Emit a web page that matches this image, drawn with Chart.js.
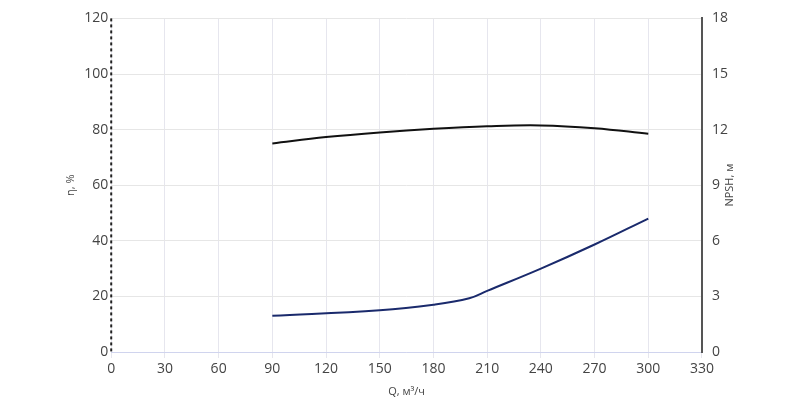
<!DOCTYPE html>
<html>
<head>
<meta charset="utf-8">
<script src="https://cdn.jsdelivr.net/npm/chart.js@4/dist/chart.umd.min.js"></script>
<style>
html, body { margin: 0; padding: 0; background: #fff; }
#wrap { width: 800px; height: 408px; }
</style>
</head>
<body>
<div id="wrap"><canvas id="chart"></canvas></div>
<script>
const flowQ = [90, 120, 150, 180, 210, 240, 270, 300];
const efficiency = [75, 77.3, 79, 80.3, 81.2, 81.5, 80.5, 78.5];
const npshQ = [90, 150, 180, 200, 210, 240, 270, 300];
const npsh = [1.95, 2.25, 2.55, 2.9, 3.3, 4.5, 5.8, 7.2];

const ctx = document.getElementById('chart').getContext('2d');
const tickFont = { family: 'Open Sans', size: 14 };

// dashed left axis line and right-hand title reading bottom to top
const extras = {
    id: 'extras',
    afterDraw(chart) {
        const c = chart.ctx;
        const area = chart.chartArea;
        c.save();
        c.strokeStyle = '#222';
        c.lineWidth = 2;
        c.setLineDash([3, 3]);
        c.beginPath();
        c.moveTo(area.left, area.top);
        c.lineTo(area.left, area.bottom);
        c.stroke();
        c.setLineDash([]);
        const y1 = chart.scales.y1;
        c.translate(y1.right - 8, (area.top + area.bottom) / 2);
        c.rotate(-Math.PI / 2);
        c.fillStyle = '#444';
        c.font = '11px "Open Sans"';
        c.textAlign = 'center';
        c.textBaseline = 'middle';
        c.fillText('NPSH, м', 0, 0);
        c.restore();
    }
};

new Chart(ctx, {
    type: 'line',
    data: {
        datasets: [{
            label: 'η',
            data: flowQ.map((q, i) => ({ x: q, y: efficiency[i] })),
            borderColor: '#111',
            borderWidth: 2,
            pointRadius: 0,
            tension: 0.4,
            yAxisID: 'y'
        }, {
            label: 'NPSH',
            data: npshQ.map((q, i) => ({ x: q, y: npsh[i] })),
            borderColor: '#1a2a6c',
            borderWidth: 2,
            pointRadius: 0,
            tension: 0.4,
            yAxisID: 'y1'
        }]
    },
    options: {
        responsive: true,
        maintainAspectRatio: false,
        animation: false,
        layout: { padding: { left: 60, right: 62, top: 17, bottom: 6 } },
        plugins: { legend: { display: false }, tooltip: { enabled: false } },
        scales: {
            x: {
                type: 'linear',
                min: 0, max: 330,
                ticks: { stepSize: 30, color: '#444', font: tickFont },
                grid: { color: '#e6e6ee', drawTicks: true, tickLength: 6 },
                border: { color: '#d0d4ee', width: 1 },
                title: { display: true, text: 'Q, м³/ч', color: '#444', font: { family: 'Open Sans', size: 11 } }
            },
            y: {
                position: 'left',
                min: 0, max: 120,
                ticks: { stepSize: 20, color: '#444', font: tickFont },
                grid: { color: '#e6e6e6', drawTicks: false },
                border: { display: false },
                title: { display: true, text: 'η, %', color: '#444', font: { family: 'Open Sans', size: 11 } }
            },
            y1: {
                position: 'right',
                min: 0, max: 18,
                ticks: { stepSize: 3, color: '#444', font: tickFont, padding: 10 },
                grid: { display: false, drawTicks: false },
                border: { color: '#555', width: 2 }
            }
        }
    },
    plugins: [extras]
});
</script>
</body>
</html>
